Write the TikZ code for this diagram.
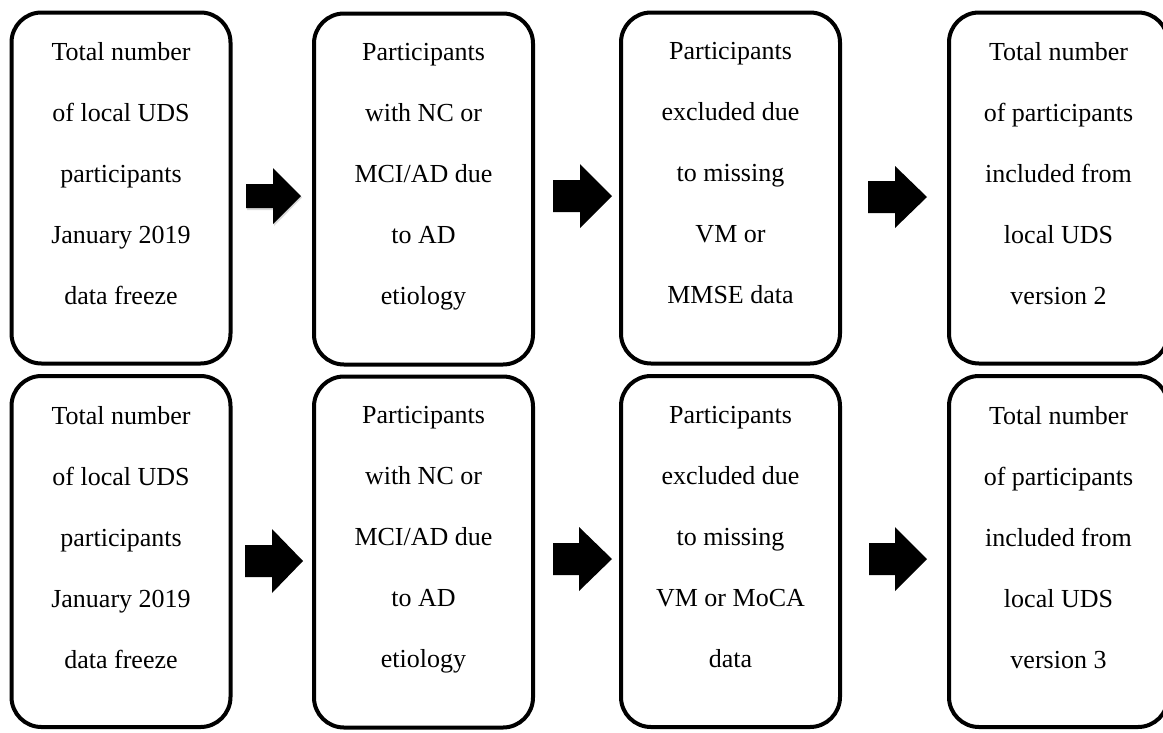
\documentclass[tikz,border=0pt]{standalone}
\usepackage{fontspec}
\setmainfont{Liberation Serif}
\newcommand\blockarrow[7]{% x0, yc, neck x, tip x, body half, head half, style
  \fill #7 (#1,#2-#5) -- (#3,#2-#5) -- (#3,#2-#6) -- (#4,#2) -- (#3,#2+#6) -- (#3,#2+#5) -- (#1,#2+#5) -- cycle;}
\newcommand\boxtext[1]{\parbox[c][351pt][t]{219pt}{\centering\vspace*{30pt}#1\par}}
\begin{document}
\begin{tikzpicture}[x=1pt,y=-1pt,
  stepbox/.style={draw=black, line width=4pt, rounded corners=30pt,
    minimum width=219pt, minimum height=351pt, inner sep=0pt,
    font=\fontsize{26}{61}\selectfont},
  arrowfill/.style={fill=black}]
\useasboundingbox (0,0) rectangle (1163,732);
\clip (0,0) rectangle (1163,732);
% row 1
\node[stepbox] (r1a) at (121,188) {\boxtext{Total number\\of local UDS\\participants\\January 2019\\data freeze}};
\node[stepbox] (r1b) at (423.5,189) {\boxtext{Participants\\with NC or\\MCI/AD due\\to AD\\etiology}};
\node[stepbox] (r1c) at (730.5,188) {\boxtext{Participants\\excluded due\\to missing\\VM or\\MMSE data}};
\node[stepbox] (r1d) at (1058.5,188) {\boxtext{Total number\\of participants\\included from\\local UDS\\version 2}};
% row 2
\node[stepbox] (r2a) at (121,551.5) {\boxtext{Total number\\of local UDS\\participants\\January 2019\\data freeze}};
\node[stepbox] (r2b) at (423.5,552) {\boxtext{Participants\\with NC or\\MCI/AD due\\to AD\\etiology}};
\node[stepbox] (r2c) at (730.5,551.5) {\boxtext{Participants\\excluded due\\to missing\\VM or MoCA\\data}};
\node[stepbox] (r2d) at (1058.5,551.5) {\boxtext{Total number\\of participants\\included from\\local UDS\\version 3}};
% block arrows
\blockarrow{247}{197.5}{274}{302}{12.5}{28.5}{[black, opacity=0.15]}
\blockarrow{246}{196}{273}{301}{12}{28}{[arrowfill]}
\blockarrow{553}{196}{580}{612}{16}{32}{[arrowfill]}
\blockarrow{868}{197}{895}{927}{16}{31}{[arrowfill]}
\blockarrow{245}{561}{272}{303}{16}{32}{[arrowfill]}
\blockarrow{553}{559}{579}{612}{16}{32}{[arrowfill]}
\blockarrow{869}{559}{895}{927}{16}{32}{[arrowfill]}
\end{tikzpicture}
\end{document}
